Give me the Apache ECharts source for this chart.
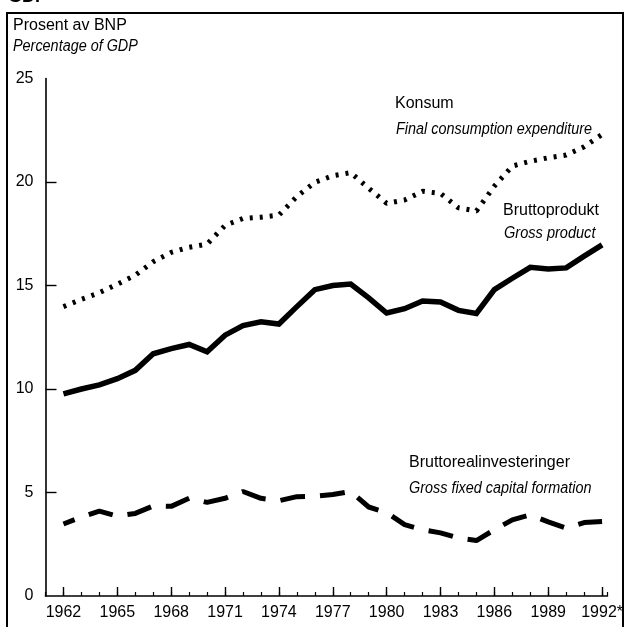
<!DOCTYPE html>
<html>
<head>
<meta charset="utf-8">
<script src="https://cdn.jsdelivr.net/npm/echarts@6/dist/echarts.min.js"></script>
<style>
  html, body { margin: 0; padding: 0; background: #fff; }
  #chart { width: 626px; height: 627px; }
</style>
</head>
<body>
<div id="chart"></div>
<script>
// Shares of GDP, Norway 1962-1992 (1992 preliminary)
const years = [1962, 1963, 1964, 1965, 1966, 1967, 1968, 1969, 1970, 1971,
  1972, 1973, 1974, 1975, 1976, 1977, 1978, 1979, 1980, 1981,
  1982, 1983, 1984, 1985, 1986, 1987, 1988, 1989, 1990, 1991, 1992];

// Konsum / Final consumption expenditure
const konsum = [13.98, 14.33, 14.65, 15.06, 15.5, 16.15, 16.6, 16.85, 17.0, 17.9,
  18.24, 18.3, 18.4, 19.3, 19.98, 20.3, 20.45, 19.7, 18.97, 19.13,
  19.55, 19.45, 18.75, 18.6, 19.8, 20.77, 21.0, 21.17, 21.3, 21.7, 22.3];

// Bruttoprodukt / Gross product
const bruttoprodukt = [9.76, 10.0, 10.2, 10.5, 10.9, 11.7, 11.95, 12.15, 11.8, 12.6,
  13.06, 13.25, 13.14, 13.98, 14.8, 15.0, 15.07, 14.4, 13.67, 13.88,
  14.25, 14.2, 13.8, 13.65, 14.8, 15.35, 15.88, 15.8, 15.85, 16.42, 16.96];

// Bruttorealinvesteringer / Gross fixed capital formation
const investeringer = [3.48, 3.82, 4.1, 3.86, 3.99, 4.35, 4.33, 4.72, 4.52, 4.72,
  5.05, 4.72, 4.6, 4.8, 4.82, 4.9, 5.05, 4.3, 4.03, 3.45,
  3.2, 3.05, 2.8, 2.68, 3.2, 3.68, 3.92, 3.58, 3.28, 3.55, 3.6];

// Labelled year ticks and value ticks
const yearTicks = [1962, 1965, 1968, 1971, 1974, 1977, 1980, 1983, 1986, 1989, 1992];
const valueTicks = [0, 5, 10, 15, 20, 25];

const FONT = "'Liberation Sans', Arial, Helvetica, sans-serif";
const pairs = (vals) => years.map((y, i) => [y, vals[i]]);

const chart = echarts.init(document.getElementById('chart'), null, { renderer: 'canvas' });

const xCommon = {
  type: 'value', min: 1961, max: 1992.3,
  splitLine: { show: false }
};

// text helper for the free-standing captions
function caption(text, x, y, italic, sx) {
  return {
    type: 'text', x: x, y: y, scaleX: sx || 1,
    style: {
      text: text, fontFamily: FONT, fontSize: 16,
      fontStyle: italic ? 'italic' : 'normal',
      fill: '#000', verticalAlign: 'middle', textAlign: 'left'
    }
  };
}

chart.setOption({
  backgroundColor: '#fff',
  animation: false,
  grid: { left: 45.5, right: 17.7, top: 78.5, bottom: 31, containLabel: false },
  xAxis: [
    Object.assign({}, xCommon, {
      interval: 1,
      axisLine: { show: true, lineStyle: { color: '#000', width: 1.6 } },
      axisTick: { show: true, inside: true, length: 4, lineStyle: { color: '#000', width: 1.2 } },
      axisLabel: { show: false }
    }),
    Object.assign({}, xCommon, {
      position: 'bottom',
      axisLine: { show: false },
      axisTick: { show: true, inside: true, length: 9, customValues: yearTicks,
        lineStyle: { color: '#000', width: 1.4 } },
      axisLabel: {
        show: true, customValues: yearTicks, margin: 9,
        color: '#000', fontFamily: FONT, fontSize: 16,
        formatter: (v) => (v === 1992 ? '1992*' : String(v))
      }
    })
  ],
  yAxis: {
    type: 'value', min: 0, max: 25, interval: 5,
    splitLine: { show: false },
    axisLine: { show: true, lineStyle: { color: '#000', width: 1.6 } },
    axisTick: { show: true, inside: true, length: 11, customValues: [5, 10, 15, 20],
      lineStyle: { color: '#000', width: 1.4 } },
    axisLabel: {
      show: true, customValues: valueTicks, margin: 12,
      color: '#000', fontFamily: FONT, fontSize: 16
    }
  },
  series: [
    {
      name: 'Konsum', type: 'line', xAxisIndex: 0, data: pairs(konsum),
      showSymbol: false, smooth: false,
      lineStyle: { color: '#000', width: 5, type: [3, 7], cap: 'butt' }
    },
    {
      name: 'Bruttoprodukt', type: 'line', xAxisIndex: 0, data: pairs(bruttoprodukt),
      showSymbol: false, smooth: false,
      lineStyle: { color: '#000', width: 5.5, cap: 'butt', join: 'miter' }
    },
    {
      name: 'Bruttorealinvesteringer', type: 'line', xAxisIndex: 0, data: pairs(investeringer),
      showSymbol: false, smooth: false,
      lineStyle: { color: '#000', width: 5, type: [25, 15], dashOffset: 13, cap: 'butt' }
    }
  ],
  graphic: [
    // outer frame
    { type: 'rect', shape: { x: 7, y: 13, width: 616, height: 630 },
      style: { fill: 'none', stroke: '#000', lineWidth: 2 } },
    // heading cut off above the frame
    { type: 'text', left: 8, top: -12,
      style: { text: 'GDP', fontFamily: FONT, fontSize: 18, fontWeight: 'bold', fill: '#000' } },
    caption('Prosent av BNP', 13, 26, false),
    caption('Percentage of GDP', 13, 47, true, 0.9),
    caption('Konsum', 395, 104, false),
    caption('Final consumption expenditure', 396, 130, true, 0.9),
    caption('Bruttoprodukt', 503, 211, false),
    caption('Gross product', 504, 234, true, 0.91),
    caption('Bruttorealinvesteringer', 409, 463, false),
    caption('Gross fixed capital formation', 409, 489, true, 0.9)
  ]
});
</script>
</body>
</html>
